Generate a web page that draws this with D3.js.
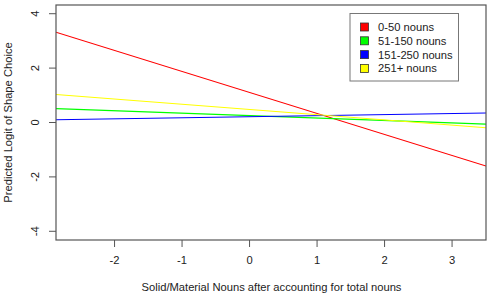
<!DOCTYPE html>
<html><head><meta charset="utf-8">
<script src="https://cdn.jsdelivr.net/npm/d3@7"></script>
<style>body{margin:0;background:#fff}svg{display:block;font-family:"Liberation Sans",Arial,sans-serif}</style>
</head><body>
<svg id="c" width="490" height="298"></svg>
<script>
const groups = ["0-50 nouns","51-150 nouns","151-250 nouns","251+ nouns"];
const colors = ["#ff0000","#00ff00","#0000ff","#ffff00"];
const xEnds = [-2.86, 3.51];
const yStart = [3.32, 0.51, 0.10, 1.03];
const yEnd = [-1.60, -0.06, 0.35, -0.195];
const xTicks = [-2,-1,0,1,2,3];
const yTicks = [-4,-2,0,2,4];

const svg = d3.select("#c");
const L=56, R=486, T=5, B=240;
const x = d3.scaleLinear().domain([-2.86,3.51]).range([L,R]);
const y = d3.scaleLinear().domain([-4.32,4.32]).range([B,T]);
const fmt = d => String(d);

const plot = svg.append("g");
plot.append("clipPath").attr("id","clip").append("rect").attr("x",L).attr("y",T).attr("width",R-L).attr("height",B-T);
const lines = plot.append("g").attr("clip-path","url(#clip)");
groups.forEach((g,i)=>{
  lines.append("line")
    .attr("x1",x(xEnds[0])).attr("y1",y(yStart[i]))
    .attr("x2",x(xEnds[1])).attr("y2",y(yEnd[i]))
    .attr("stroke",colors[i]).attr("stroke-width",1.1);
});

svg.append("rect").attr("x",L).attr("y",T).attr("width",R-L).attr("height",B-T)
  .attr("fill","none").attr("stroke","#555").attr("stroke-width",1.2);

const xa = svg.append("g").attr("transform",`translate(0,${B})`)
  .call(d3.axisBottom(x).tickValues(xTicks).tickSize(7).tickPadding(9).tickFormat(fmt));
xa.select(".domain").remove();
xa.selectAll("line").attr("stroke","#555");
xa.selectAll("text").attr("font-size",11.2).attr("fill","#222").attr("font-family","Liberation Sans, Arial, sans-serif");

const ya = svg.append("g").attr("transform",`translate(${L},0)`)
  .call(d3.axisLeft(y).tickValues(yTicks).tickSize(7).tickFormat(fmt));
ya.select(".domain").remove();
ya.selectAll("line").attr("stroke","#555");
ya.selectAll("text").attr("font-size",11.2).attr("fill","#222")
  .attr("font-family","Liberation Sans, Arial, sans-serif")
  .attr("text-anchor","middle")
  .attr("transform",function(d){return `translate(${-21},${y(d)}) rotate(-90)`;})
  .attr("x",0).attr("y",0).attr("dy","0.35em");
ya.selectAll(".tick").attr("transform",null);
ya.selectAll(".tick line").attr("transform",d=>`translate(0,${y(d)})`);

svg.append("text").attr("x",(L+R)/2 + 0.5).attr("y",291).attr("text-anchor","middle")
  .attr("font-size",11.2).attr("fill","#222").text("Solid/Material Nouns after accounting for total nouns");
svg.append("text").attr("transform",`translate(12,${(T+B)/2}) rotate(-90)`).attr("text-anchor","middle")
  .attr("font-size",11.2).attr("fill","#222").text("Predicted Logit of Shape Choice");

const lg = svg.append("g");
lg.append("rect").attr("x",350).attr("y",13.5).attr("width",108.5).attr("height",67.5)
  .attr("fill","#fff").attr("stroke","#777").attr("stroke-width",1);
groups.forEach((g,i)=>{
  const cy = 27 + i*13.8;
  lg.append("rect").attr("x",360.5).attr("y",cy-4).attr("width",8).attr("height",8)
    .attr("fill",colors[i]).attr("stroke","#333").attr("stroke-width",0.8);
  lg.append("text").attr("x",378).attr("y",cy).attr("dy","0.35em").attr("font-size",11.2)
    .attr("fill","#222").text(g);
});
</script>
</body></html>
